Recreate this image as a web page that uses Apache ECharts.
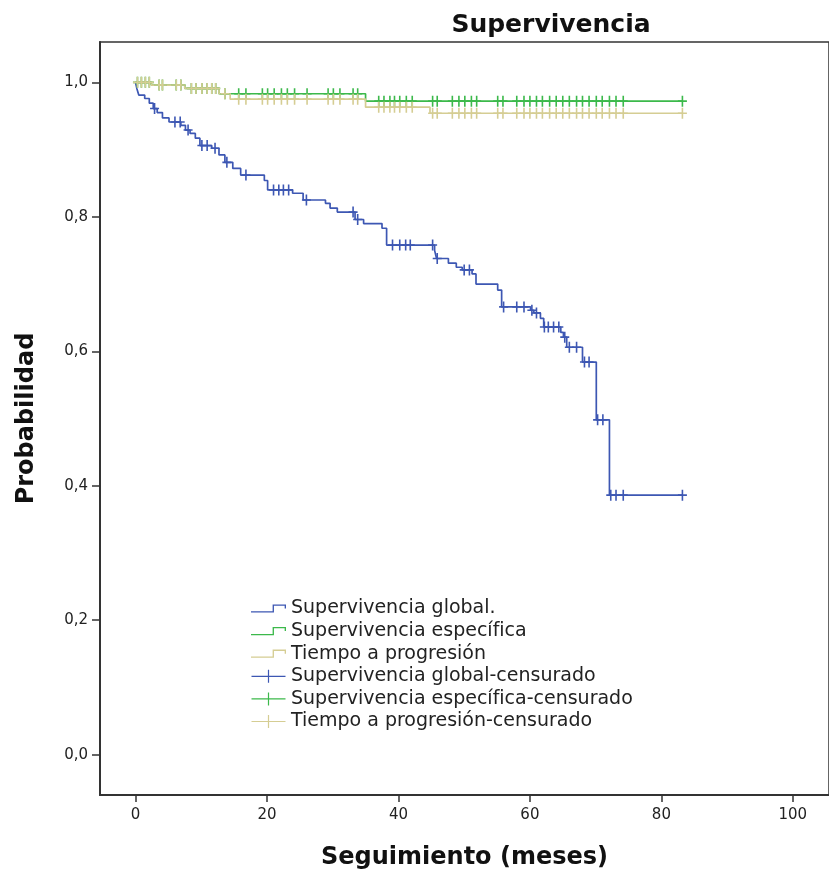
<!DOCTYPE html>
<html lang="es">
<head>
<meta charset="UTF-8">
<title>Supervivencia</title>
<script src="https://cdn.jsdelivr.net/npm/echarts@6.0.0/dist/echarts.min.js"></script>
<style>
    html, body { margin: 0; padding: 0; background: #fff; }
    #chart { width: 829px; height: 877px; }
</style>
</head>
<body>
<div id="chart"></div>
<script>
    // Supervivencia global: tiempo (meses) de cada escalón y probabilidad tras él
    let globalTiempos = [0, 0.2, 0.5, 1.4, 2.1, 2.7, 3.3, 4.1, 5.1, 6.9,
        7.6, 8.3, 9.1, 9.8, 11.6, 12.7, 13.6, 14.8, 16.0, 19.6,
        20.1, 23.9, 25.5, 28.9, 29.6, 30.7, 33.4, 34.7, 37.5, 38.2,
        45.5, 45.8, 47.6, 48.8, 49.7, 51.2, 51.8, 55.1, 55.7, 60.1,
        60.6, 61.6, 62.1, 64.7, 65.1, 65.6, 68.0, 70.1, 72.1, 83.2];
    let globalProb = [1.000, 0.991, 0.981, 0.976, 0.969, 0.961, 0.955, 0.947, 0.941, 0.936,
        0.929, 0.924, 0.917, 0.906, 0.902, 0.892, 0.881, 0.872, 0.862, 0.854,
        0.840, 0.835, 0.825, 0.820, 0.813, 0.807, 0.796, 0.790, 0.783, 0.758,
        0.750, 0.738, 0.731, 0.725, 0.721, 0.715, 0.700, 0.691, 0.666, 0.661,
        0.657, 0.649, 0.636, 0.628, 0.621, 0.606, 0.584, 0.498, 0.386, 0.386];
    let globalCensura = [2.9, 6.0, 6.8, 8.0, 10.1, 10.9, 12.1, 13.9, 16.8, 21.0,
        21.8, 22.5, 23.3, 26.0, 33.1, 33.8, 39.1, 40.2, 41.1, 41.8,
        45.2, 45.9, 50.0, 50.8, 56.0, 58.0, 59.1, 60.3, 61.0, 62.2,
        62.8, 63.6, 64.4, 65.3, 66.0, 67.1, 68.3, 69.0, 70.3, 71.1,
        72.3, 73.1, 74.2, 83.2];

    // Supervivencia específica
    let especificaTiempos = [0, 2.4, 7.5, 12.7, 35.0, 83.2];
    let especificaProb = [1.000, 0.996, 0.991, 0.983, 0.972, 0.972];

    // Tiempo a progresión
    let progresionTiempos = [0, 2.4, 7.5, 12.7, 14.4, 35.0, 44.8, 83.2];
    let progresionProb = [1.000, 0.996, 0.991, 0.983, 0.975, 0.963, 0.954, 0.954];

    // censuras comunes a específica y progresión
    let censuraComun = [0.3, 0.9, 1.5, 2.1, 3.6, 4.1, 6.2, 6.9, 8.5, 9.2,
        10.1, 10.9, 11.6, 12.2, 13.6, 15.7, 16.8, 19.3, 20.1, 21.1,
        22.2, 23.1, 24.2, 26.1, 29.3, 30.1, 31.1, 33.1, 33.8, 37.0,
        37.8, 38.7, 39.4, 40.2, 41.2, 42.1, 45.2, 45.9, 48.2, 49.2,
        50.1, 51.1, 51.9, 55.1, 55.9, 58.0, 59.1, 60.0, 61.0, 61.9,
        63.0, 64.0, 65.0, 66.0, 67.1, 68.0, 69.0, 70.1, 71.0, 72.1,
        73.1, 74.2, 83.2];

    let ejeX = [0, 20, 40, 60, 80, 100];
    let ejeY = [0, 0.2, 0.4, 0.6, 0.8, 1.0];

    let colores = ['#3d57b3', '#3cb94b', '#d5cd93'];

    // probabilidad en el instante t según la curva escalonada
    function probEn(tiempos, probs, t) {
        let p = probs[0];
        for (let i = 0; i < tiempos.length; i++) {
            if (tiempos[i] <= t) p = probs[i];
        }
        return p;
    }

    function curva(tiempos, probs) {
        return tiempos.map(function (t, i) { return [t, probs[i]]; });
    }

    function marcas(censura, tiempos, probs) {
        return censura.map(function (t) { return [t, probEn(tiempos, probs, t)]; });
    }

    let cruz = 'path://M0,4.7H3.7V0H5.3V4.7H9V6.3H5.3V11H3.7V6.3H0Z';
    let iconoEscalon = 'path://M0,6.7H21V0H34V4H32.7V1.3H22.3V8H0Z';
    let iconoCruz = 'path://M0,5.9H16.4V0H17.6V5.9H34V7.1H17.6V13H16.4V7.1H0Z';
    let fuente = 'DejaVu Sans';

    function lineaSerie(nombre, datos, color) {
        return {
            name: nombre,
            type: 'line',
            step: 'end',
            showSymbol: false,
            data: datos,
            color: color,
            lineStyle: {width: 1.7, color: color}
        };
    }

    function censuraSerie(nombre, datos, color) {
        return {
            name: nombre,
            type: 'scatter',
            symbol: cruz,
            symbolSize: [9, 11],
            data: datos,
            color: color,
            itemStyle: {color: color, opacity: 1},
            z: 3
        };
    }

    let myChart = echarts.init(document.getElementById('chart'));
    let option = {
        animation: false,
        backgroundColor: '#fff',
        title: {
            text: 'Supervivencia',
            left: 546,
            top: 8,
            textAlign: 'center',
            textStyle: {fontFamily: fuente, fontSize: 25, fontWeight: 'bold', color: '#111'}
        },
        grid: {
            left: 100,
            top: 42,
            right: -5,
            bottom: 82,
            show: true,
            borderColor: '#333',
            borderWidth: 1.5
        },
        legend: {
            orient: 'vertical',
            left: 246,
            top: 594,
            itemWidth: 35,
            itemHeight: 13,
            itemGap: 3.6,
            selectedMode: false,
            itemStyle: {borderWidth: 0},
            textStyle: {fontFamily: fuente, fontSize: 19, color: '#222'},
            data: [
                {name: 'Supervivencia global.', icon: iconoEscalon},
                {name: 'Supervivencia específica', icon: iconoEscalon},
                {name: 'Tiempo a progresión', icon: iconoEscalon},
                {name: 'Supervivencia global-censurado', icon: iconoCruz},
                {name: 'Supervivencia específica-censurado', icon: iconoCruz},
                {name: 'Tiempo a progresión-censurado', icon: iconoCruz}
            ]
        },
        xAxis: {
            type: 'value',
            min: -5.4,
            max: 105.5,
            name: 'Seguimiento (meses)',
            nameLocation: 'middle',
            nameGap: 51,
            nameTextStyle: {fontFamily: fuente, fontSize: 24, fontWeight: 'bold', color: '#111'},
            axisLine: {show: true, onZero: false, lineStyle: {color: '#333', width: 2}},
            axisTick: {show: true, length: 7, customValues: ejeX, lineStyle: {color: '#333', width: 1.5}},
            axisLabel: {customValues: ejeX, margin: 13, fontFamily: fuente, fontSize: 15, color: '#222'},
            splitLine: {show: false}
        },
        yAxis: {
            type: 'value',
            min: -0.06,
            max: 1.06,
            name: 'Probabilidad',
            nameLocation: 'middle',
            nameGap: 61,
            nameTextStyle: {fontFamily: fuente, fontSize: 24, fontWeight: 'bold', color: '#111'},
            axisLine: {show: true, onZero: false, lineStyle: {color: '#333', width: 2}},
            axisTick: {show: true, length: 8, customValues: ejeY, lineStyle: {color: '#333', width: 1.5}},
            axisLabel: {
                customValues: ejeY,
                margin: 12,
                fontFamily: fuente,
                fontSize: 15,
                color: '#222',
                formatter: function (v) { return v.toFixed(1).replace('.', ','); }
            },
            splitLine: {show: false}
        },
        series: [
            lineaSerie('Supervivencia global.', curva(globalTiempos, globalProb), colores[0]),
            lineaSerie('Supervivencia específica', curva(especificaTiempos, especificaProb), colores[1]),
            lineaSerie('Tiempo a progresión', curva(progresionTiempos, progresionProb), colores[2]),
            censuraSerie('Supervivencia global-censurado',
                marcas(globalCensura, globalTiempos, globalProb), colores[0]),
            censuraSerie('Supervivencia específica-censurado',
                marcas(censuraComun, especificaTiempos, especificaProb), colores[1]),
            censuraSerie('Tiempo a progresión-censurado',
                marcas(censuraComun, progresionTiempos, progresionProb), colores[2])
        ]
    };
    myChart.setOption(option);
</script>
</body>
</html>
